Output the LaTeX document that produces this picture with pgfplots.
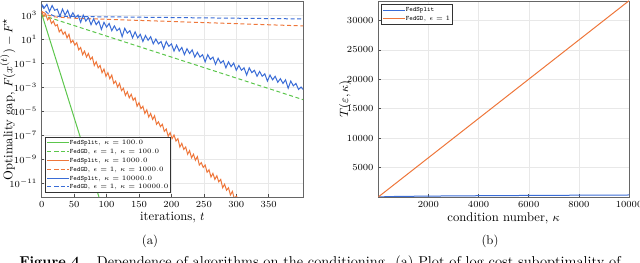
\documentclass[border=0pt]{standalone}
\usepackage{pgfplots}
\usepackage{graphicx}
\pgfplotsset{compat=1.18}
\definecolor{cgreen}{RGB}{92,198,76}
\definecolor{corange}{RGB}{238,118,58}
\definecolor{cblue}{RGB}{58,108,214}
\pgfplotsset{
  common/.style={
    scale only axis, anchor=south west,
    width=196pt, height=147pt,
    axis line style={black!60, line width=0.6pt},
    grid=major, grid style={black!9, line width=0.35pt},
    tick align=inside, tick pos=left, major tick length=2pt,
    tick style={black!70, line width=0.4pt},
    ticklabel style={font=\fontsize{7}{8}\selectfont},
    label style={font=\fontsize{9.5}{11}\selectfont},
    xlabel style={at={(axis description cs:0.5,-0.107)}, anchor=center},
    scaled ticks=false,
    /pgf/number format/set thousands separator={},
    legend style={font=\fontsize{5}{5.5}\selectfont, draw=black!80, line width=0.6pt,
      inner sep=1pt, row sep=0pt, cells={anchor=west}, fill=white,
      nodes={inner sep=0.6pt, text height=4.1pt, text depth=1.3pt}},
    legend cell align=left,
    legend image code/.code={\draw[mark repeat=2,mark phase=2] plot coordinates {(0cm,0cm) (0.28cm,0cm) (0.56cm,0cm)};},
  }
}
\begin{document}
\begin{tikzpicture}
\useasboundingbox (0,0) rectangle (480pt,197.25pt);
\begin{axis}[common,
  at={(31.3pt,49.5pt)}, width=196pt, height=147pt,
  xmin=0, xmax=403, ymode=log, ymin=6.8e-13, ymax=1.5e4,
  xtick={0,50,100,150,200,250,300,350},
  ytick={1e3,1e1,1e-1,1e-3,1e-5,1e-7,1e-9,1e-11},
  yminorticks=false,
  xlabel={iterations, $t$},
  ylabel={Optimality gap, $F(x^{(t)}) - F^\star$},
  ylabel style={at={(axis description cs:-0.13,0.5)}, anchor=center, rotate=0},
  legend style={at={(0.013,0.02)}, anchor=south west},
  every axis plot/.append style={line width=0.75pt},
]
\addplot[cgreen] coordinates {(0,1.26e3) (89,5.0e-13) (92,2.0e-13)};
\addlegendentry{\texttt{FedSplit}, $\kappa = 100.0$}
\addplot[cgreen, dash pattern=on 3pt off 2pt] coordinates {(0,1.0e3) (400,1.0e-4) (403,8.9e-5)};
\addlegendentry{\texttt{FedGD}, $\epsilon = 1$, $\kappa = 100.0$}
\addplot[corange] coordinates {
(0,2.0e3) (3,7.9e2) (6,1.26e3) (9,4.0e2) (12,6.3e2) (15,2.0e2) (18,3.16e2) (21,1.26e2)
(24,1.58e2) (27,4.0e1) (30,6.3e1) (33,2.5e1) (36,4.0e1) (39,1.26e1) (42,2.5e1) (45,5.0)
(48,7.9) (51,3.16) (54,5.0) (57,1.26) (60,2.0) (63,5.0e-1) (66,1.0) (69,3.16e-1)
(72,6.3e-1) (75,2.0e-1) (78,3.16e-1) (81,6.3e-2) (84,1.26e-1) (87,4.0e-2) (90,6.3e-2)
(93,1.58e-2) (96,3.16e-2) (99,7.9e-3) (102,1.58e-2) (105,5.0e-3) (108,1.0e-2) (111,2.0e-3)
(114,3.16e-3) (117,1.0e-3) (120,2.0e-3) (123,5.0e-4) (126,7.9e-4) (129,2.0e-4) (132,4.0e-4)
(135,1.26e-4) (138,2.5e-4) (141,7.9e-5) (144,1.26e-4) (147,2.5e-5) (150,5.0e-5) (153,1.58e-5)
(156,2.5e-5) (159,6.3e-6) (162,1.26e-5) (165,3.16e-6) (168,6.3e-6) (171,2.0e-6) (174,4.0e-6)
(177,7.9e-7) (180,1.26e-6) (183,5.0e-7) (186,7.9e-7) (189,2.0e-7) (192,3.16e-7) (195,7.9e-8)
(198,1.58e-7) (201,5.0e-8) (204,1.0e-7) (207,3.16e-8) (210,5.0e-8) (213,1.0e-8) (216,2.0e-8)
(219,6.3e-9) (222,1.0e-8) (225,2.5e-9) (228,5.0e-9) (231,1.26e-9) (234,2.5e-9) (237,7.9e-10)
(240,1.58e-9) (243,3.16e-10) (246,5.0e-10) (249,2.0e-10) (252,3.16e-10) (255,7.9e-11)
(258,1.26e-10) (261,3.16e-11) (264,6.3e-11) (267,2.0e-11) (270,4.0e-11) (273,1.26e-11)
(276,2.0e-11) (279,4.0e-12) (282,7.9e-12) (285,2.5e-12) (288,4.0e-12) (291,1.0e-12)
(294,2.0e-12) (297,5.0e-13) (300,7.9e-13) (303,5.0e-13)};
\addlegendentry{\texttt{FedSplit}, $\kappa = 1000.0$}
\addplot[corange, dash pattern=on 3pt off 2pt] coordinates {(0,2.0e3) (10,1.0e3) (20,7.08e2) (50,5.5e2) (403,1.25e2)};
\addlegendentry{\texttt{FedGD}, $\epsilon = 1$, $\kappa = 1000.0$}
\addplot[cblue] coordinates {
(0,7.9e3) (4,4.0e3) (8,7.9e3) (12,2.0e3) (16,6.3e3) (20,2.5e3) (24,3.16e3) (28,7.9e2)
(32,3.16e3) (36,1.0e3) (40,2.5e3) (44,6.3e2) (48,1.58e3) (52,6.3e2) (56,1.0e3) (60,2.5e2)
(64,1.0e3) (68,3.16e2) (72,6.3e2) (76,1.58e2) (80,5.0e2) (84,1.58e2) (88,3.16e2) (92,6.3e1)
(96,2.5e2) (100,1.0e2) (104,2.0e2) (108,5.0e1) (112,1.26e2) (116,5.0e1) (120,7.9e1) (124,1.58e1)
(128,7.9e1) (132,3.16e1) (136,5.0e1) (140,1.26e1) (144,4.0e1) (148,1.26e1) (152,2.5e1) (156,6.3)
(160,2.0e1) (164,7.9) (168,1.58e1) (172,4.0) (176,1.0e1) (180,4.0) (184,6.3) (188,1.58)
(192,6.3) (196,2.5) (200,4.0) (204,1.0) (208,3.16) (212,1.0) (216,2.0) (220,5.0e-1)
(224,1.58) (228,6.3e-1) (232,1.26) (236,3.16e-1) (240,7.9e-1) (244,3.16e-1) (248,5.0e-1) (252,1.26e-1)
(256,5.0e-1) (260,2.0e-1) (264,3.16e-1) (268,7.9e-2) (272,2.5e-1) (276,1.0e-1) (280,1.58e-1) (284,4.0e-2)
(288,1.26e-1) (292,5.0e-2) (296,1.0e-1) (300,2.5e-2) (304,6.3e-2) (308,2.5e-2) (312,4.0e-2) (316,1.0e-2)
(320,4.0e-2) (324,1.58e-2) (328,2.5e-2) (332,7.9e-3) (336,2.0e-2) (340,7.9e-3) (344,1.26e-2) (348,3.16e-3)
(352,1.0e-2) (356,4.0e-3) (360,7.9e-3) (364,2.5e-3) (368,5.0e-3) (372,2.0e-3) (376,4.0e-3) (380,7.9e-4)
(384,3.16e-3) (388,1.26e-3) (392,2.0e-3) (396,6.3e-4) (400,1.0e-3) (403,6.3e-4)};
\addlegendentry{\texttt{FedSplit}, $\kappa = 10000.0$}
\addplot[cblue, dash pattern=on 3pt off 2pt] coordinates {(0,6.3e3) (8,1.58e3) (20,7.94e2) (403,4.79e2)};
\addlegendentry{\texttt{FedGD}, $\epsilon = 1$, $\kappa = 10000.0$}
\end{axis}
\begin{axis}[common,
  at={(283.7pt,49.5pt)}, width=188.1pt, height=147pt,
  xmin=0, xmax=10000, ymin=0, ymax=33300,
  xtick={2000,4000,6000,8000,10000},
  ytick={5000,10000,15000,20000,25000,30000},
  xlabel={condition number, $\kappa$},
  ylabel={$T(\varepsilon, \kappa)$},
  ylabel style={at={(axis description cs:-0.132,0.5)}, anchor=center},
  legend style={at={(0.011,0.985)}, anchor=north west},
  every axis plot/.append style={line width=0.75pt},
]
\addplot[cblue] coordinates {(10,11) (500,76) (1000,107) (2000,152) (3000,186) (4000,215) (5000,240) (6000,263) (7000,284) (8000,304) (9000,322) (10000,340)};
\addlegendentry{\texttt{FedSplit}}
\addplot[corange] coordinates {(10,33) (2000,6670) (4000,13340) (6000,20010) (8000,26680) (10000,33350)};
\addlegendentry{\texttt{FedGD}, $\epsilon = 1$}
\end{axis}
\node[font=\fontsize{9.5}{11}\selectfont] at (112.5pt,16.5pt) {(a)};
\node[font=\fontsize{9.5}{11}\selectfont] at (367.5pt,16.5pt) {(b)};
\node[anchor=base west, inner sep=0pt] at (14.25pt,-2.6pt) {\resizebox{451pt}{!}{\textbf{Figure 4.}\hspace{0.9em}Dependence of algorithms on the conditioning. (a) Plot of log cost suboptimality of}};
\end{tikzpicture}
\end{document}
